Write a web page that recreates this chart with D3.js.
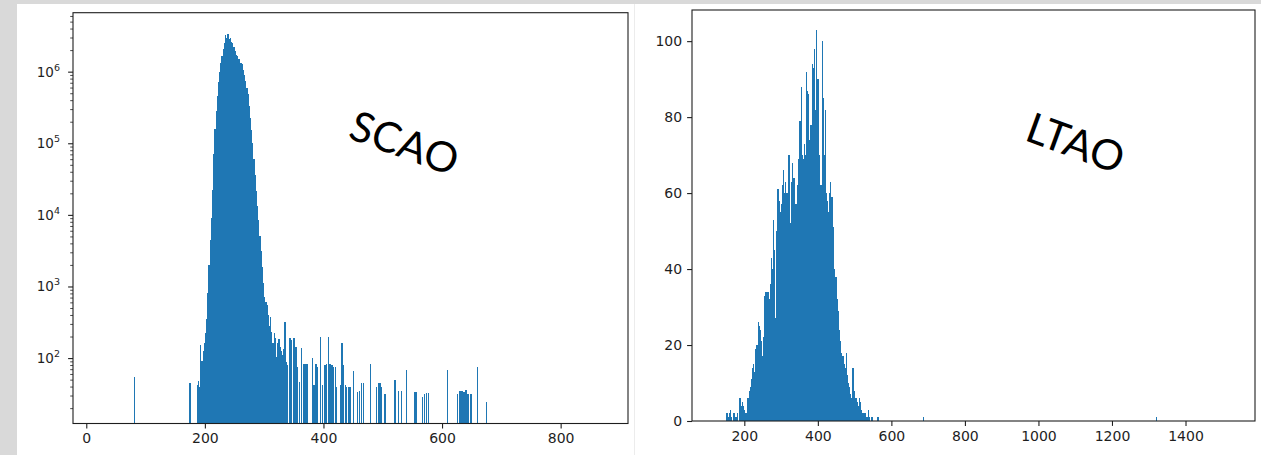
<!DOCTYPE html>
<html>
<head>
<meta charset="utf-8">
<script src="https://cdn.jsdelivr.net/npm/d3@7"></script>
<style>
  html, body { margin: 0; padding: 0; background: #d9d9d9; }
  svg { display: block; }
</style>
</head>
<body>
<svg id="chart" width="1261" height="455"></svg>
<script>
// ---------------- DATA ----------------
// SCAO (left, log y): dense body, bins of width 2 starting at 186
const scaoBinStart = 186;
const scaoBinWidth = 2;
const scaoBodyCounts = [42,48,40,150,90,125,160,225,355,800,2000,4500,9000,22000,71000,160000,280000,450000,710000,1000000,1320000,1660000,2090000,2510000,3300000,3000000,3400000,2900000,2950000,2600000,2500000,2200000,1950000,1700000,1650000,1500000,1480000,1330000,1280000,1070000,890000,740000,600000,480000,330000,224000,151000,100000,60000,35500,21400,13200,8500,5000,3160,1860,1120,710,600,560,400,280,380,234,160,224,190,105,160,182,145,126,112,132,316,89,80];
// SCAO isolated bins: [value, count]
const scaoTail = [[81,54],[175,45],[343.5,188],[346.3,178],[350.3,188],[353.6,144],[355.9,76],[359.3,47],[363.3,138],[367.2,84],[370.5,84],[373.3,84],[381.7,99],[384,42],[387.3,84],[389.6,76],[395.3,198],[398.6,42],[402.5,80],[405.3,84],[408.1,198],[411,84],[414.3,80],[416.6,76],[420,76],[422.2,40],[429,42],[431.2,160],[433.5,80],[436.8,42],[439.2,40],[441.9,40],[444.7,40],[450.3,65],[457.7,34],[460.5,35],[464.4,45],[467.2,45],[479.6,84],[489.7,40],[493.1,45],[495.3,45],[498.1,40],[503.7,32],[520.6,50],[526.2,35],[531.9,35],[540.3,69],[554.3,34],[557.2,34],[567.3,29],[570,32],[574,33],[576.7,33],[609.4,69],[626.2,32],[630.2,35],[633.6,35],[637,34],[640.3,36],[643.7,32],[648.8,32],[660,76],[675.2,24]];
const scaoXTicks = [0,200,400,600,800];
const scaoYTicks = [1e2,1e3,1e4,1e5,1e6];
const scaoYExp = ["2","3","4","5","6"];
const scaoXDomain = [-22.4, 913.6];
const scaoYDomain = [12.2, 6.66e6];

// LTAO (right, linear y): bins of width 3 starting at 146
const ltaoBinStart = 146;
const ltaoBinWidth = 3;
const ltaoCounts = [0,2,2,1,2,3,1,0,2,2,1,2,0,6,6,4,5,4,3,2,6,6,8,9,11,14,15,13,19,20,26,25,24,21,17,22,33,34,34,34,32,36,43,40,53,45,27,50,61,58,55,57,62,66,60,63,60,60,70,52,63,68,64,64,57,57,62,69,79,88,70,69,73,70,92,87,86,74,78,94,93,98,82,103,90,90,70,62,100,85,70,82,60,58,55,60,63,59,51,40,38,38,32,29,24,21,18,17,15,14,18,12,10,9,7,6,14,8,6,6,5,4,6,5,3,2,2,2,1,1,3,1,0,1,1,0,0,0,1,1];
const ltaoOutliers = [[687,1],[1322,1]];
const ltaoXTicks = [200,400,600,800,1000,1200,1400];
const ltaoYTicks = [0,20,40,60,80,100];
const ltaoXDomain = [57.7, 1589];
const ltaoYDomain = [0, 108.2];

const labelsText = ["SCAO","LTAO"];

// ---------------- DRAW ----------------
const svg = d3.select("#chart");
const BAR = "#1f77b4";
const INK = "#1e1e1e";

// panel backgrounds
svg.append("rect").attr("x",0).attr("y",0).attr("width",1261).attr("height",455).attr("fill","#d9d9d9");
svg.append("rect").attr("x",17).attr("y",4).attr("width",1244).attr("height",451).attr("fill","#ffffff");
svg.append("line").attr("x1",634.5).attr("x2",634.5).attr("y1",4).attr("y2",455).attr("stroke","#ececec").attr("stroke-width",1);

function drawFrame(x0,x1,y0,y1){
  svg.append("rect").attr("x",x0).attr("y",y0).attr("width",x1-x0).attr("height",y1-y0)
    .attr("fill","none").attr("stroke",INK).attr("stroke-width",1.1);
}

// ---- Left: SCAO ----
const L = {x0:73, x1:628, y0:12.7, y1:423.5};
const xL = d3.scaleLinear().domain(scaoXDomain).range([L.x0, L.x1]);
const yL = d3.scaleLog().domain(scaoYDomain).range([L.y1, L.y0]);

const scaoBins = scaoBodyCounts.map((c,i)=>({x0:scaoBinStart+i*scaoBinWidth, x1:scaoBinStart+(i+1)*scaoBinWidth, c}));
scaoTail.forEach(([v,c])=>scaoBins.push({x0:v-scaoBinWidth/2, x1:v+scaoBinWidth/2, c}));

svg.append("g").attr("shape-rendering","crispEdges").selectAll("rect").data(scaoBins).join("rect")
  .attr("x", d=>xL(d.x0))
  .attr("width", d=>Math.max(1, xL(d.x1)-xL(d.x0)))
  .attr("y", d=>yL(d.c))
  .attr("height", d=>L.y1 - yL(d.c))
  .attr("fill", BAR);

// x axis
svg.append("g").attr("transform",`translate(0,${L.y1})`)
  .call(d3.axisBottom(xL).tickValues(scaoXTicks).tickSize(4.9).tickPadding(5).tickFormat(d3.format("d")));
// y axis major
svg.append("g").attr("transform",`translate(${L.x0},0)`)
  .call(d3.axisLeft(yL).tickValues(scaoYTicks).tickSize(4.9).tickPadding(5).tickFormat(()=>""));
// minor ticks
const minors = [];
for (let e=1; e<=6; e++) for (let m=2; m<=9; m++){ const v=m*Math.pow(10,e); if (v>scaoYDomain[0] && v<scaoYDomain[1]) minors.push(v); }
svg.append("g").attr("class","minor").attr("transform",`translate(${L.x0},0)`)
  .call(d3.axisLeft(yL).tickValues(minors).tickSize(2.8).tickFormat(()=>""));
// log labels
scaoYTicks.forEach((v,i)=>{
  const t = svg.append("text").attr("x", L.x0-13).attr("y", yL(v)+5)
    .attr("text-anchor","end").attr("font-family","DejaVu Sans").attr("font-size",13.5).attr("fill",INK);
  t.append("tspan").text("10");
  t.append("tspan").attr("dy",-6).attr("font-size",9.5).text(scaoYExp[i]);
});

// ---- Right: LTAO ----
const R = {x0:692, x1:1255, y0:10, y1:421};
const xR = d3.scaleLinear().domain(ltaoXDomain).range([R.x0, R.x1]);
const yR = d3.scaleLinear().domain(ltaoYDomain).range([R.y1, R.y0]);

const ltaoBins = ltaoCounts.map((c,i)=>({x0:ltaoBinStart+i*ltaoBinWidth, x1:ltaoBinStart+(i+1)*ltaoBinWidth, c})).filter(d=>d.c>0);
ltaoOutliers.forEach(([v,c])=>ltaoBins.push({x0:v-ltaoBinWidth/2, x1:v+ltaoBinWidth/2, c}));

svg.append("g").attr("shape-rendering","crispEdges").selectAll("rect").data(ltaoBins).join("rect")
  .attr("x", d=>xR(d.x0))
  .attr("width", d=>Math.max(1, xR(d.x1)-xR(d.x0)))
  .attr("y", d=>yR(d.c))
  .attr("height", d=>R.y1 - yR(d.c))
  .attr("fill", BAR);

svg.append("g").attr("transform",`translate(0,${R.y1})`)
  .call(d3.axisBottom(xR).tickValues(ltaoXTicks).tickSize(4.9).tickPadding(5).tickFormat(d3.format("d")));
svg.append("g").attr("transform",`translate(${R.x0},0)`)
  .call(d3.axisLeft(yR).tickValues(ltaoYTicks).tickSize(4.9).tickPadding(5).tickFormat(d3.format("d")));

// style axes
svg.selectAll(".tick text").attr("font-family","DejaVu Sans").attr("font-size",14).attr("fill",INK);
svg.selectAll(".tick line").attr("stroke",INK).attr("stroke-width",1.1);
svg.selectAll(".minor .tick line").attr("stroke-width",0.8);
svg.selectAll(".domain").remove();

drawFrame(L.x0,L.x1,L.y0,L.y1);
drawFrame(R.x0,R.x1,R.y0,R.y1);

// annotations
const annPos = [[405,142],[1076,142]];
labelsText.forEach((s,i)=>{
  svg.append("text").attr("transform",`translate(${annPos[i][0]},${annPos[i][1]}) rotate(20)`)
    .attr("text-anchor","middle").attr("dominant-baseline","central")
    .attr("font-family","Lato").attr("font-size",42).attr("fill","#000").text(s);
});
</script>
</body>
</html>
